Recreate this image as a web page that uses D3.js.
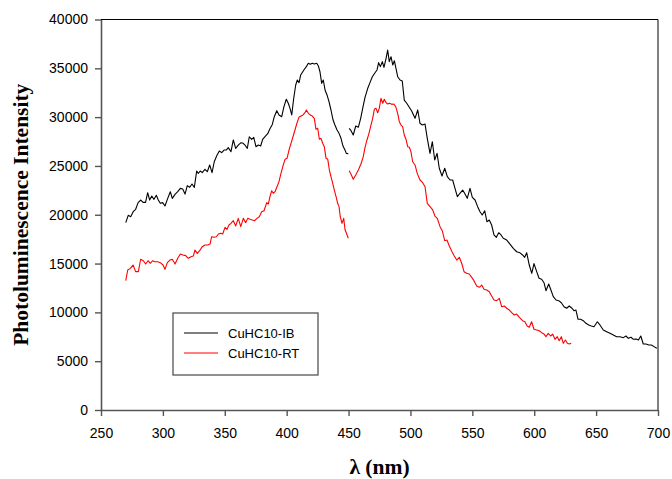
<!DOCTYPE html>
<html>
<head>
<meta charset="utf-8">
<script src="https://cdn.jsdelivr.net/npm/d3@7"></script>
<style>
  body { margin: 0; background: #fff; }
  svg { display: block; }
  .tick text { font-family: "Liberation Sans", Arial, sans-serif; font-size: 14px; fill: #000; }
  .title { font-family: "Liberation Serif", "Times New Roman", serif; font-weight: bold; font-size: 21.5px; fill: #000; }
  .legendText { font-family: "Liberation Sans", Arial, sans-serif; font-size: 13px; fill: #000; }
</style>
</head>
<body>
<div id="chart"></div>
<script>
// CuHC10-IB, first scan (270-450 nm) [wavelength, intensity]
const ibLow = [[270,19190],[272,19940],[274,19800],[276,20310],[278,20560],[280,21240],[282,21510],[284,21270],[286,21270],[287.7,22260],[289.3,21510],[291,21920],[292.8,21580],[294.7,21990],[296.3,21510],[297.9,21170],[299.8,21240],[301.7,20900],[303.9,21680],[306,22360],[307.6,21680],[309.8,22090],[312,22360],[314.1,22700],[316,22640],[317.9,22120],[319.7,22980],[321.7,22810],[323.5,23150],[325.4,22810],[327.3,24480],[328.6,24240],[330.2,24480],[331.8,24310],[334,24660],[335.9,24410],[337.8,25100],[339.7,24310],[341.5,25430],[343.5,26050],[345.6,26530],[347.5,26360],[349.4,26630],[351.2,26630],[352.8,26870],[355,26460],[356.9,27660],[358.8,26800],[360.9,27140],[363.1,27380],[364.9,27320],[366.3,27140],[368.2,26800],[369.8,27990],[371.7,27720],[373.4,27930],[375.2,26970],[377.1,27140],[379,27040],[380.6,27720],[382.5,28000],[384.7,28300],[386.5,28800],[388.4,29250],[390,30040],[392,30660],[393.8,30220],[396,30040],[397.8,31070],[399.7,31830],[401.3,31420],[402.7,30900],[404.1,30220],[405.7,31930],[407.3,33290],[408.6,33800],[410,33530],[411.3,34310],[413,34650],[414.3,34900],[415.9,35170],[417.5,35510],[419.1,35410],[420.7,35510],[422.3,35440],[424.3,35510],[425.6,35240],[426.9,34650],[428.3,33460],[429.6,33800],[431,32780],[432.6,32270],[434.2,31580],[435.8,30730],[437.5,29700],[439,29190],[440.7,28680],[442.3,28340],[443.9,27830],[445.5,27040],[447.1,26630],[448.2,26290],[449.8,26250]]

// CuHC10-IB, second scan (450-700 nm)
const ibHigh = [[450.5,28850],[452,28610],[453.8,28170],[455.8,29090],[457.9,28960],[459.8,29880],[461.7,31070],[463.3,32030],[465.5,32950],[467.3,33530],[469.2,34140],[471.4,34550],[473,34830],[474.3,35580],[475.7,35170],[477.3,35680],[478.6,35100],[480.3,36020],[481.6,36870],[482.9,35680],[484.3,36190],[485.7,35340],[487,35780],[488.3,35000],[489.7,34140],[491.6,33800],[493.4,33700],[495,31750],[497,31420],[498.8,31070],[501,30630],[503.7,29880],[505.9,30730],[507.7,29370],[509.6,29190],[511.8,29290],[513.6,27830],[515.8,26290],[517.7,27480],[519.6,25610],[521.5,26290],[523.3,24760],[525.5,23970],[527.7,24760],[529.8,23900],[532,23560],[534.1,23560],[536,22710],[537.9,21850],[540,22200],[542.2,22530],[544.1,22120],[545.9,21680],[548.1,22710],[550,21790],[552.2,21510],[554.3,20830],[556.2,20310],[558,19970],[560,20410],[561.8,19290],[563.7,19460],[565.6,18950],[567.5,17930],[569.4,17690],[571.3,18160],[573.2,17930],[575,17590],[577.8,17410],[580.4,17000],[583.1,16560],[585.8,16210],[588.5,16100],[590.6,15880],[592.3,15640],[593.9,16110],[596,14850],[598,14000],[599.8,15000],[602,14170],[603.9,13490],[606,13390],[607.9,13040],[609.5,12220],[611.7,12910],[613.5,12290],[615.4,11610],[617.6,11270],[619.8,11200],[621.9,10990],[624.1,10580],[626.2,10420],[628.3,10650],[630.5,10420],[632.1,10170],[633.7,10240],[635.4,9290],[637.5,9290],[639.6,9150],[641.8,8880],[644,8710],[646.1,8600],[648.3,8530],[651,9040],[653.1,8710],[655.8,8190],[658.5,8020],[661.2,7850],[663.9,7680],[666.6,7510],[669.3,7510],[672,7410],[674.1,7580],[676,7340],[678.2,7450],[680.1,7240],[682.3,7270],[684.2,7170],[686.1,7580],[688.1,6760],[690.3,6760],[692.5,6660],[694.6,6660],[696.8,6490],[699,6320]]

// CuHC10-RT, first scan
const rtLow = [[270,13250],[271.6,14340],[273.7,14510],[275.9,14850],[278,14170],[280.2,14170],[282,15440],[284.2,15290],[286.1,14950],[288,15290],[289.8,15030],[291.8,15290],[293.6,15190],[295.8,15190],[297.9,15090],[300.1,14850],[301.7,14410],[303.6,15090],[305.7,15360],[307.6,15440],[309.8,14950],[312,15540],[314.1,15980],[316.2,15880],[318.4,15810],[320.5,15540],[322.7,15700],[324.6,15770],[325.9,16390],[327.8,16050],[329.7,16320],[331.8,16730],[334,16900],[336.2,16900],[338.1,17000],[339.4,17750],[341.3,17690],[343.2,17750],[344.8,18030],[346.7,18100],[348.3,18030],[350.2,18710],[351.8,18510],[353.4,18950],[355,19120],[356.9,19390],[358.8,18850],[360.9,19630],[362.9,18780],[365,19630],[366.9,19190],[368.5,19630],[370.4,19530],[372.2,19460],[374.2,19390],[376,19630],[377.9,19800],[379.8,20310],[381.7,20410],[383.9,21240],[385.2,21100],[386.5,21850],[387.9,22460],[389.2,22200],[390.6,22360],[392.2,22870],[393.8,23390],[395.4,24240],[397,24990],[398.7,25680],[400.3,25780],[401.9,26630],[403.5,27320],[405.1,27990],[406.7,28680],[408.3,29370],[409.9,29980],[411.6,30110],[413.2,30220],[414.8,30450],[415.9,30730],[417.5,30390],[419.1,30220],[420.7,30110],[422.3,29880],[423.7,28750],[425.1,28850],[426.4,27730],[427.7,27830],[429.1,27320],[430.4,26970],[431.8,25780],[433.2,25680],[434.5,24580],[435.8,23900],[437.2,23220],[438.5,22530],[439.9,21850],[441.2,21170],[442.3,20830],[443.3,19800],[444.7,19120],[446.1,19630],[447.1,18510],[448.5,18030],[449.8,17590]]

// CuHC10-RT, second scan
const rtHigh = [[450.5,24510],[452,24140],[453.8,23630],[455.8,24070],[457.9,24580],[460,25200],[461.9,25950],[463.3,26910],[464.9,27660],[466.5,28340],[468.1,29190],[469.5,29880],[470.8,30800],[472.2,30900],[473.5,30450],[474.8,30900],[476.2,31930],[477.6,31420],[478.9,31830],[480.3,31480],[481.6,31340],[483.2,31420],[484.9,31310],[486.5,31340],[488.1,31070],[489.7,30390],[491,29530],[492.4,29190],[493.7,29020],[495,28170],[496.4,27730],[497.8,26970],[499.1,26910],[500.4,26460],[501.8,25430],[503.7,25100],[505.5,24240],[507.7,23560],[509.9,23280],[511.8,22870],[513.6,21170],[515.8,20830],[518,20490],[519.8,19870],[521.7,19630],[523.9,18780],[525.7,18370],[527.7,17340],[529.5,17410],[531.4,16800],[533.6,16210],[535.4,15770],[537.4,15360],[539.5,15640],[541.4,15030],[543.3,14170],[545.4,14000],[547.5,13930],[549.5,13590],[551.3,13250],[553.5,12700],[555.6,12570],[557.6,12800],[559.4,12360],[561.6,12290],[563.7,12120],[565.6,11680],[567.5,11270],[569.7,11200],[571.8,11440],[573.7,10580],[575.8,10650],[577.8,10420],[579.9,10240],[581.8,9970],[583.9,9730],[585.8,9830],[588,9490],[590.6,9150],[592.5,9040],[594.3,8600],[596,8470],[597.9,9040],[599.8,8270],[602,8190],[604.1,8120],[606,7920],[607.9,7780],[609.5,7510],[611.4,7850],[613.3,7580],[614.9,7780],[616.8,7240],[618.6,7510],[620.2,7100],[621.9,7510],[623.5,6830],[625.2,7170],[626.8,6830],[628.3,6760],[629.9,6830]]

const xTicks = [250, 300, 350, 400, 450, 500, 550, 600, 650, 700]
const yTicks = [0, 5000, 10000, 15000, 20000, 25000, 30000, 35000, 40000]
const seriesNames = ["CuHC10-IB", "CuHC10-RT"]
const seriesColors = ["#000000", "#ff0000"]

const width = 672, height = 479
const plotLeft = 101, plotRight = 658, plotTop = 19.5, plotBottom = 410

const svg = d3.select("#chart").append("svg")
    .attr("width", width)
    .attr("height", height)

const x = d3.scaleLinear().domain([250, 700]).range([plotLeft, plotRight])
const y = d3.scaleLinear().domain([0, 40000]).range([plotBottom, plotTop])

// frame: top and right plain black
svg.append("path")
    .attr("d", `M${plotLeft},${plotTop}H${plotRight}V${plotBottom}`)
    .attr("fill", "none")
    .attr("stroke", "#000")
    .attr("stroke-width", 1)

const line = d3.line().x(d => x(d[0])).y(d => y(d[1]))

const segs = [
    { data: ibLow, color: seriesColors[0] },
    { data: ibHigh, color: seriesColors[0] },
    { data: rtLow, color: seriesColors[1] },
    { data: rtHigh, color: seriesColors[1] }
]
svg.append("g").selectAll("path").data(segs).enter().append("path")
    .attr("d", d => line(d.data))
    .attr("fill", "none")
    .attr("stroke", d => d.color)
    .attr("stroke-width", 1.1)
    .attr("stroke-linejoin", "round")

const yAxis = svg.append("g")
    .attr("transform", `translate(${plotLeft},0)`)
    .call(d3.axisLeft(y).tickValues(yTicks).tickSize(6).tickSizeOuter(0).tickPadding(7).tickFormat(d3.format("d")))
const xAxis = svg.append("g")
    .attr("transform", `translate(0,${plotBottom})`)
    .call(d3.axisBottom(x).tickValues(xTicks).tickSize(6).tickSizeOuter(0).tickPadding(12))

for (const ax of [xAxis, yAxis]) {
    ax.select(".domain").attr("stroke", "#555").attr("stroke-width", 1.6)
    ax.selectAll(".tick line").attr("stroke", "#555").attr("stroke-width", 1.4)
    ax.selectAll("text").attr("font-family", null).attr("font-size", null)
}

svg.append("text")
    .attr("class", "title")
    .attr("x", (plotLeft + plotRight) / 2)
    .attr("y", 474)
    .attr("text-anchor", "middle")
    .text("λ (nm)")

svg.append("text")
    .attr("class", "title")
    .attr("transform", `translate(28,${(plotTop + plotBottom) / 2}) rotate(-90)`)
    .attr("text-anchor", "middle")
    .text("Photoluminescence Intensity")

// legend
const legend = svg.append("g").attr("transform", "translate(173,313)")
legend.append("rect")
    .attr("width", 145).attr("height", 62)
    .attr("fill", "#fff")
    .attr("stroke", "#555")
    .attr("stroke-width", 1.3)
const items = legend.selectAll("g.item").data(seriesNames).enter().append("g")
    .attr("transform", (d, i) => `translate(0,${20 + i * 20})`)
items.append("line")
    .attr("x1", 11).attr("x2", 45)
    .attr("stroke", (d, i) => seriesColors[i])
    .attr("stroke-width", 1.1)
items.append("text")
    .attr("class", "legendText")
    .attr("x", 55)
    .attr("dy", "0.35em")
    .text(d => d)
</script>
</body>
</html>
